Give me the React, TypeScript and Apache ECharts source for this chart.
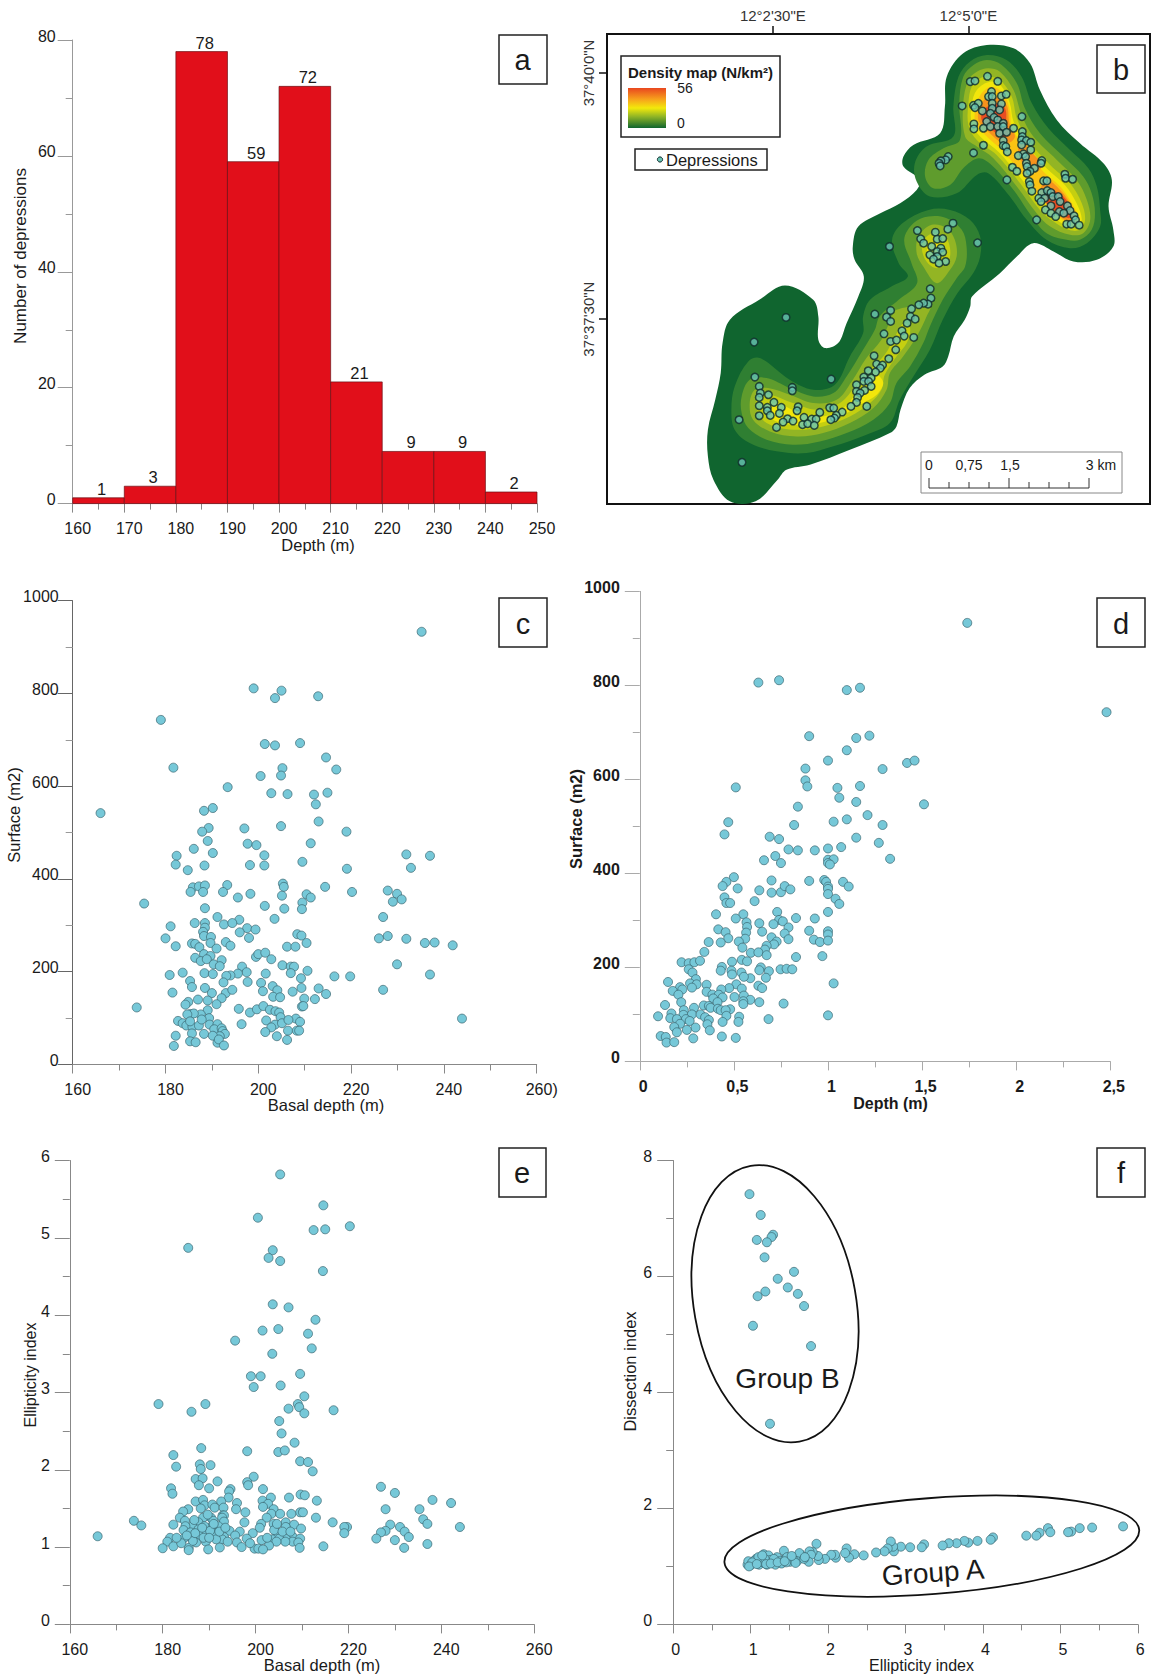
import React, { useEffect, useRef } from "react";
import * as echarts from "echarts";

const FONT = "'Liberation Sans', Arial, sans-serif";

const histogramBins = [[160,170,1],[170,180,3],[180,190,78],[190,200,59],[200,210,72],[210,220,21],[220,230,9],[230,240,9],[240,250,2]];

const surfaceVsBasal = [[235.2,933],[199,811],[205,806],[203.6,790],[212.9,794],[179,743],[201.4,691],[203.6,688],[209,693],[214.6,662],[216.8,636],[181.7,640],[205.2,639],[200.5,622],[204.9,623],[193.4,598],[202.8,585],[206.3,583],[212,582],[214.9,586],[212.4,561],[190.2,553],[188.3,547],[166,542],[213,524],[189.3,510],[197,509],[187.9,502],[204.9,514],[219,502],[189.1,482],[197.7,476],[199.6,473],[211.3,477],[186.1,465],[190.2,456],[182.4,450],[201.3,451],[231.9,453],[237,450],[182.2,431],[188.4,429],[198.2,430],[201.3,429],[209.5,437],[219.1,422],[232.9,424],[184.8,419],[185.9,382],[187.2,384],[188.5,386],[185.4,372],[188.1,372],[193.3,387],[192.4,372],[195.6,360],[198.3,368],[205.3,390],[205.5,383],[205.1,364],[210.4,367],[211.3,360],[214.4,383],[220.2,372],[227.9,375],[229.9,368],[230.9,356],[229,351],[175.4,347],[188.5,337],[201.4,342],[205.6,336],[209.5,349],[209.4,335],[226.9,318],[191.2,318],[195.9,312],[203.5,314],[181.1,298],[186.3,305],[188.5,305],[192.6,302],[194.4,305],[188.5,295],[188.1,286],[197.6,294],[199.4,291],[196,285],[188.3,277],[189.8,275],[198,273],[208.4,281],[209.3,278],[180,272],[226,272],[227.9,277],[231.9,271],[185.7,261],[186.4,260],[189.7,262],[193,264],[194,256],[182.2,255],[187.3,253],[191,250],[206.2,254],[208,254],[210.4,262],[235.9,262],[238,263],[241.9,257],[188.3,238],[189.7,234],[186.4,230],[187.6,223],[188.9,227],[192.1,225],[190.4,216],[191.7,212],[199.5,232],[200,238],[201.5,241],[202.8,227],[205.2,214],[207,211],[207.7,211],[229.9,216],[196.5,211],[197.5,199],[195.6,196],[194,192],[193.1,191],[188.4,197],[190.2,195],[183.7,198],[180.9,193],[201.6,196],[207,197],[210.6,202],[209.2,186],[216.4,190],[219.8,190],[237,194],[185.3,180],[185.7,167],[192.5,177],[197.7,178],[200.6,176],[203.1,169],[188.5,165],[181.5,155],[190,154],[193,154],[194.4,161],[201,158],[204.1,160],[207.4,157],[209.3,165],[213,164],[214.6,152],[226.9,161],[192.1,143],[189.1,138],[187,140],[203.2,146],[204.7,145],[209.9,142],[212.2,141],[184.9,135],[184.3,129],[191,130],[173.8,123],[195.8,120],[198.2,112],[199.7,119],[201.1,126],[202.5,118],[203.7,115],[204.5,112],[209.4,125],[209.7,126],[189.1,117],[187.6,108],[185.4,109],[186.1,110],[184.7,108],[189.4,100],[204.8,102],[208.1,99],[182.7,94],[183.7,89],[184.5,84],[185.8,81],[185.3,93],[187.2,84],[187.8,97],[189.5,86],[191.2,87],[196.4,87],[201.7,95],[203.6,86],[205.1,89],[206.5,96],[209,92],[243.9,99],[202.8,80],[185.7,67],[188.3,66],[190.5,76],[192.1,78],[192.3,72],[192.8,66],[191.7,61],[190.2,62],[182.2,62],[201.5,70],[206.4,73],[208.3,73],[208.8,73],[204,61],[206.2,53],[185.3,50],[186.5,48],[191.2,47],[191.5,54],[181.8,40],[192.6,41]];

const surfaceVsDepth = [[1.74,933],[.63,806],[.74,811],[1.10,790],[1.17,795],[2.48,743],[.90,692],[1.22,693],[1.15,688],[1.10,662],[1.00,640],[1.42,635],[1.46,640],[.88,623],[1.29,622],[.88,598],[.89,585],[.51,583],[1.05,582],[1.17,586],[1.06,561],[1.15,552],[1.51,547],[.84,542],[.47,509],[1.03,510],[1.10,515],[1.21,524],[.82,503],[1.29,503],[.45,483],[.69,478],[.74,473],[1.15,476],[1.27,465],[.79,451],[.84,449],[.93,449],[1.00,453],[1.07,456],[.72,437],[.66,428],[.75,422],[1.00,429],[1.03,430],[1.00,422],[1.01,419],[1.33,431],[.50,392],[.46,382],[.44,373],[.52,368],[.70,385],[.90,384],[.98,386],[.99,382],[1.08,382],[1.11,372],[1.00,372],[1.00,367],[.635,364],[.70,359],[.75,360],[.77,373],[.80,366],[1.00,356],[1.04,346],[.45,349],[.46,337],[.48,337],[.61,341],[1.06,335],[1.00,318],[.405,313],[.55,313],[.73,318],[.51,304],[.74,301],[.76,298],[.83,305],[.93,304],[.567,296],[.635,294],[.71,292],[.57,286],[.417,281],[.79,285],[.90,278],[.456,275],[.565,274],[.65,276],[.77,272],[1.00,277],[1.00,270],[.70,264],[.47,262],[.56,261],[.79,260],[.925,259],[.957,254],[1.00,257],[.366,254],[.43,253],[.526,255],[.727,255],[.713,249],[.674,246],[.545,242],[.665,238],[.343,233],[.59,231],[.63,232],[.674,226],[.83,222],[.97,224],[.542,216],[.57,213],[.222,211],[.26,209],[.29,211],[.32,214],[.49,212],[.436,201],[.643,200],[.26,196],[.43,193],[.487,193],[.635,194],[.686,192],[.748,196],[.78,197],[.81,196],[.28,189],[.54,189],[.49,185],[.67,178],[.298,175],[.587,177],[.553,180],[.15,169],[1.03,166],[.267,166],[.302,164],[.355,163],[.513,164],[.214,158],[.277,157],[.475,156],[.542,155],[.63,161],[.65,156],[.226,153],[.433,153],[.175,150],[.355,148],[.205,142],[.386,142],[.42,142],[.503,137],[.553,140],[.39,134],[.44,136],[.22,126],[.587,131],[.55,128],[.413,126],[.134,120],[.635,126],[.764,123],[.55,122],[.34,119],[.367,118],[.376,114],[.415,112],[.288,114],[.43,109],[.48,111],[.456,109],[.234,109],[.168,102],[.232,99],[.277,100],[.323,100],[.097,96],[.162,92],[.197,90],[.347,94],[.245,90],[.46,97],[.528,95],[.367,88],[.684,90],[1.00,98],[.524,84],[.44,84],[.214,80],[.265,86],[.359,79],[.183,73],[.296,72],[.25,67],[.197,62],[.372,66],[.111,54],[.138,52],[.436,53],[.284,49],[.51,50],[.142,40],[.183,41]];

const ellipticityVsBasal = [[205.3,5.82],[214.6,5.42],[200.5,5.26],[220.3,5.15],[212.5,5.10],[215,5.11],[185.5,4.87],[203.7,4.84],[202.8,4.74],[205.3,4.70],[214.5,4.57],[203.7,4.14],[207.1,4.10],[212.9,3.94],[201.5,3.80],[204.9,3.82],[211.3,3.76],[195.6,3.67],[212.1,3.57],[203.6,3.50],[209.6,3.24],[199,3.21],[201.1,3.21],[199.6,3.07],[205.4,3.09],[210.5,2.95],[179.1,2.85],[189.2,2.85],[209.1,2.85],[209.4,2.81],[207.1,2.79],[186.2,2.75],[216.8,2.77],[210.5,2.73],[205.1,2.63],[205.6,2.47],[208.4,2.35],[188.3,2.28],[198.2,2.24],[204.9,2.23],[206.3,2.25],[182.3,2.19],[209.6,2.11],[211.3,2.10],[188,2.07],[190.3,2.06],[182.9,2.04],[188.2,2.01],[212.3,1.98],[199.6,1.91],[187.1,1.88],[188.6,1.89],[191.8,1.85],[198.2,1.84],[198.4,1.80],[187.8,1.80],[190,1.76],[181.8,1.76],[194.6,1.75],[194.3,1.72],[201.6,1.75],[182.1,1.69],[227,1.78],[230,1.70],[209.7,1.68],[210.6,1.67],[194.2,1.64],[203.3,1.64],[207.2,1.64],[187.1,1.59],[188.7,1.61],[192.6,1.59],[201.5,1.60],[213.2,1.60],[238.1,1.61],[242.1,1.57],[196,1.57],[202.7,1.56],[189,1.54],[190.7,1.55],[191.2,1.51],[193.1,1.51],[201.6,1.52],[188.2,1.50],[185.5,1.49],[235.3,1.49],[195.8,1.49],[203.9,1.49],[184.4,1.46],[228,1.49],[197.8,1.45],[209.6,1.45],[210.2,1.45],[207.7,1.43],[203.4,1.43],[205.3,1.43],[192.9,1.41],[183.7,1.38],[190.4,1.38],[193.2,1.41],[188.7,1.38],[192.8,1.38],[202.4,1.38],[213,1.38],[184.8,1.34],[190.9,1.34],[236.1,1.36],[173.8,1.34],[187.7,1.32],[197.6,1.32],[193.2,1.33],[206.5,1.32],[216.6,1.32],[237,1.30],[175.4,1.28],[182.3,1.29],[186.4,1.27],[184.9,1.27],[192,1.27],[203.9,1.30],[201.2,1.30],[208.3,1.29],[229,1.29],[231.1,1.26],[219.7,1.26],[219.1,1.26],[244,1.26],[190.5,1.26],[187.7,1.23],[206.5,1.26],[209.8,1.24],[200.9,1.25],[194.4,1.21],[196.6,1.20],[228,1.21],[232.1,1.20],[227,1.19],[184.5,1.22],[186,1.19],[191.1,1.18],[204.7,1.18],[199.4,1.18],[219.1,1.18],[166,1.14],[233,1.13],[193.2,1.13],[195.6,1.15],[186.3,1.12],[181.6,1.12],[184.5,1.11],[207.9,1.14],[198.1,1.11],[201.3,1.09],[206.5,1.11],[209.6,1.11],[192.8,1.10],[203.6,1.10],[205.1,1.11],[226,1.11],[230,1.09],[181,1.07],[189.3,1.07],[208,1.07],[209.2,1.06],[206.4,1.07],[204.5,1.07],[196,1.06],[187.2,1.06],[237,1.04],[202.9,1.02],[214.6,1.01],[182.3,1.01],[197,1.00],[192.3,.995],[185.6,.99],[209.5,.99],[180,.985],[232,.99],[199.8,.98],[200.6,.98],[201.6,.97],[189.8,.97],[185.6,.96],[188,1.16],[189,1.27],[189.5,1.19],[191.5,1.10],[186.5,1.08],[188.8,1.12],[190.2,1.21],[184,1.05],[202.5,1.12],[204,1.22],[191,1.30],[187,1.18],[188.5,1.25],[185.2,1.15],[190,1.12],[192.2,1.2],[193.5,1.25],[186.8,1.35],[189.7,1.42],[204.6,1.3],[205.8,1.2],[207.5,1.2],[183,1.12],[194,1.07],[198.8,1.05]];

const dissectionGroupB = [[.985,7.42],[1.13,7.06],[1.29,6.72],[1.27,6.68],[1.08,6.63],[1.21,6.59],[1.18,6.33],[1.56,6.08],[1.35,5.96],[1.48,5.81],[1.19,5.74],[1.09,5.66],[1.61,5.70],[1.69,5.49],[1.03,5.15],[1.78,4.80],[1.25,3.46]];

const dissectionGroupA = [[5.81,1.69],[5.41,1.67],[5.25,1.66],[5.14,1.60],[5.10,1.59],[4.84,1.66],[4.87,1.59],[4.73,1.58],[4.69,1.53],[4.56,1.53],[4.13,1.50],[4.10,1.46],[3.93,1.44],[3.81,1.41],[3.76,1.44],[3.66,1.40],[3.56,1.40],[3.48,1.36],[3.24,1.38],[3.21,1.33],[3.06,1.33],[2.94,1.34],[2.85,1.26],[2.84,1.34],[2.81,1.43],[2.77,1.31],[2.73,1.26],[2.62,1.24],[2.46,1.19],[2.34,1.21],[2.27,1.15],[2.24,1.31],[2.22,1.23],[2.10,1.15],[2.09,1.20],[2.04,1.20],[1.96,1.13],[1.88,1.11],[1.87,1.18],[1.85,1.39],[1.80,1.25],[1.76,1.26],[1.78,1.20],[1.75,1.08],[1.65,1.20],[1.63,1.23],[1.60,1.09],[1.52,1.13],[1.51,1.08],[1.43,1.27],[1.42,1.11],[1.34,1.16],[1.28,1.06],[1.17,1.21],[1.23,1.19],[1.14,1.15],[1.21,1.03],[1.07,1.13],[1.11,1.03],[.99,1.04],[.96,1.03],[.97,1.09],[1.04,1.06],[1.16,1.07],[1.25,1.11],[1.37,1.09],[1.30,1.13],[1.47,1.16],[1.56,1.10],[1.69,1.13],[1.0,1.02],[1.05,1.1],[1.12,1.08],[1.18,1.13],[1.2,1.04],[1.32,1.03],[1.4,1.05],[1.46,1.07],[1.58,1.06],[1.1,1.16],[1.15,1.19],[1.02,1.07],[.98,1.0],[1.08,1.04],[1.26,1.05],[1.35,1.07],[1.44,1.09],[1.53,1.18],[1.7,1.16]];

const groupEllipses = [{ name: "Group B", center: [1.315, 5.53] }, { name: "Group A", center: [3.34, 1.35] }];

const mapDepressions = [[1075,245],[1088,243],[1122,229],[1150,244],[1133,275],[1125,290],[1135,290],[1160,288],[1173,283],[1053,318],[1084,316],[1097,310],[1088,323],[1135,310],[1160,312],[1135,325],[1108,333],[1155,330],[1130,340],[1140,352],[1120,365],[1150,360],[1165,370],[1085,372],[1085,387],[1111,385],[1130,380],[1150,380],[1165,380],[1193,385],[1155,400],[1174,397],[1216,350],[1217,395],[1217,410],[1215,420],[1228,422],[1240,427],[1215,435],[1165,422],[1165,437],[1172,440],[1176,456],[1111,436],[1084,459],[1240,450],[1220,462],[1206,467],[1226,470],[1015,470],[1008,480],[995,483],[990,490],[993,498],[1228,490],[1270,482],[1268,490],[1230,500],[1190,502],[1202,514],[1250,505],[1238,514],[1230,520],[1175,540],[1333,523],[1335,535],[1354,538],[1275,543],[1284,543],[1236,545],[1238,555],[1243,574],[1270,578],[1285,572],[1295,578],[1262,595],[1278,595],[1300,590],[1315,590],[1268,605],[1295,618],[1320,605],[1340,618],[1280,630],[1295,640],[1318,635],[1347,632],[1308,650],[1330,640],[1358,648],[1256,660],[1338,673],[1350,673],[1362,660],[1372,676],[1028,670],[1014,688],[980,697],[931,692],[855,740],[1095,729],[940,717],[948,730],[985,718],[1000,716],[970,740],[995,745],[985,755],[1000,757],[965,765],[985,770],[975,778],[1008,785],[990,790],[966,867],[968,895],[960,913],[948,910],[935,915],[915,927],[858,932],[815,943],[847,952],[858,965],[912,950],[925,958],[903,970],[573,953],[889,993],[895,1009],[921,1013],[840,1002],[858,1025],[874,1021],[486,1027],[872,1050],[813,1068],[853,1077],[820,1093],[836,1096],[830,1105],[817,1117],[797,1113],[488,1132],[696,1138],[785,1132],[805,1135],[785,1145],[798,1145],[765,1155],[500,1160],[590,1163],[590,1173],[805,1160],[787,1172],[765,1175],[775,1180],[503,1180],[525,1185],[500,1193],[768,1193],[540,1208],[765,1208],[500,1218],[522,1223],[560,1223],[606,1221],[692,1224],[703,1225],[750,1220],[793,1220],[522,1233],[603,1233],[555,1241],[530,1247],[500,1248],[665,1238],[726,1237],[710,1247],[445,1260],[577,1257],[565,1267],[592,1264],[622,1253],[643,1258],[655,1258],[705,1255],[695,1260],[618,1275],[632,1272],[650,1277],[547,1283],[453,1388]];

const density0 = [[[1120,135],[1193,145],[1238,190],[1265,270],[1311,360],[1374,430],[1438,490],[1461,540],[1452,620],[1465,690],[1465,740],[1420,780],[1356,785],[1302,755],[1247,730],[1202,770],[1156,820],[1080,890],[1075,920],[1060,960],[1030,1010],[1015,1070],[1000,1100],[950,1125],[910,1165],[885,1230],[874,1280],[856,1300],[747,1350],[638,1395],[574,1410],[550,1440],[490,1505],[420,1505],[375,1440],[360,1370],[360,1290],[380,1200],[395,1120],[400,1030],[420,960],[500,900],[570,857],[647,900],[661,950],[661,1020],[679,1045],[715,1030],[738,970],[770,890],[785,830],[760,780],[755,740],[770,680],[830,640],[884,610],[929,570],[938,540],[893,500],[893,470],[920,435],[993,400],[1006,320],[1011,230],[1056,160]]];
const density1 = [[[1120,165],[1174,180],[1215,230],[1243,310],[1288,385],[1347,450],[1397,505],[1420,560],[1429,630],[1429,680],[1393,730],[1347,745],[1283,720],[1229,660],[1183,590],[1124,520],[1093,525],[1038,580],[965,590],[929,545],[924,490],[956,440],[1029,410],[1029,320],[1043,230],[1074,185]],[[961,630],[1020,630],[1074,660],[1102,710],[1102,770],[1083,820],[1040,880],[1000,960],[965,1050],[920,1130],[883,1200],[856,1270],[792,1305],[702,1340],[629,1360],[547,1355],[474,1330],[433,1290],[424,1230],[433,1160],[470,1085],[502,1075],[583,1140],[647,1170],[706,1155],[747,1070],[783,1000],[783,950],[802,900],[860,860],[905,830],[880,790],[862,720],[890,670]]];
const density2 = [[[1120,180],[1161,195],[1202,250],[1224,325],[1265,400],[1329,470],[1383,530],[1406,580],[1415,640],[1406,690],[1374,720],[1338,720],[1283,700],[1243,650],[1193,570],[1133,495],[1097,475],[1056,505],[1020,555],[974,565],[952,530],[961,480],[1002,445],[1047,420],[1045,310],[1056,230],[1084,195]],[[961,650],[1011,655],[1052,690],[1065,740],[1061,800],[1038,835],[1000,900],[965,980],[947,1030],[911,1100],[874,1150],[856,1210],[811,1260],[738,1300],[665,1325],[592,1335],[520,1320],[470,1285],[452,1240],[452,1190],[474,1140],[520,1135],[583,1165],[647,1190],[702,1180],[738,1130],[783,1050],[815,990],[828,950],[880,900],[930,850],[915,790],[895,720],[920,670]]];
const density3 = [[[1124,205],[1156,215],[1193,270],[1215,345],[1247,410],[1311,480],[1365,540],[1393,600],[1402,660],[1383,700],[1347,705],[1293,680],[1256,640],[1202,560],[1138,475],[1093,440],[1061,410],[1056,310],[1070,240],[1093,215]],[[970,675],[1011,685],[1033,720],[1038,770],[1020,810],[984,850],[947,800],[929,760],[934,710]],[[874,930],[856,965],[833,1020],[792,1075],[752,1145],[711,1200],[647,1210],[583,1185],[524,1165],[488,1170],[474,1210],[483,1260],[529,1295],[602,1310],[674,1300],[747,1270],[811,1225],[847,1170],[856,1120],[892,1070],[929,1010],[956,950],[965,920]]];
const density4 = [[[1124,230],[1156,240],[1188,290],[1202,355],[1233,420],[1293,495],[1347,550],[1379,610],[1388,660],[1374,690],[1343,690],[1302,665],[1265,630],[1211,550],[1147,465],[1093,420],[1070,375],[1070,310],[1079,260],[1102,235]],[[974,700],[1006,710],[1020,745],[1015,785],[984,805],[956,785],[943,745],[952,715]],[[893,970],[870,1010],[842,1065],[802,1110],[765,1155],[720,1210],[656,1230],[592,1210],[529,1185],[497,1190],[492,1225],[520,1270],[592,1290],[674,1280],[747,1250],[802,1210],[833,1170],[842,1125],[874,1070],[902,1030],[911,985]]];
const density5 = [[[1129,245],[1161,260],[1183,310],[1193,365],[1224,425],[1283,505],[1333,555],[1365,610],[1379,660],[1365,680],[1338,678],[1306,655],[1270,615],[1220,545],[1156,460],[1102,410],[1079,370],[1079,315],[1093,270]],[[985,730],[1000,750],[990,780],[965,775],[958,745]],[[820,1125],[838,1150],[820,1185],[783,1210],[729,1245],[665,1270],[592,1275],[538,1260],[511,1220],[547,1210],[611,1240],[674,1250],[729,1225],[765,1180],[797,1140]]];
const density6 = [[[1133,260],[1165,280],[1183,330],[1188,380],[1220,440],[1274,515],[1320,560],[1352,610],[1370,655],[1356,670],[1333,665],[1311,645],[1274,605],[1229,540],[1165,455],[1111,400],[1088,365],[1091,320],[1106,280]]];
const density7 = [[[1143,290],[1174,315],[1182,370],[1197,410],[1179,430],[1156,425],[1120,390],[1097,360],[1102,320],[1118,295]],[[1215,415],[1238,450],[1270,495],[1256,515],[1229,505],[1206,460]],[[1283,540],[1320,570],[1347,610],[1361,650],[1347,665],[1320,650],[1283,610],[1265,580]]];
const density8 = [[[1147,310],[1170,325],[1174,370],[1179,405],[1161,410],[1129,385],[1106,360],[1111,330]],[[1288,570],[1329,590],[1352,640],[1343,655],[1311,635],[1283,610]]];
const densityLevels = [density0, density1, density2, density3, density4, density5, density6, density7, density8];
const densityColors = ["#10652f", "#2f7f32", "#5f9c2d", "#93b524", "#c5cf10", "#f2e60b", "#fbc313", "#f6921d", "#e94d22"];

const text = (s: string, x: number, y: number, size: number, o: any = {}) => ({
  type: "text", x, y, rotation: o.rotation || 0, z: 100,
  style: { text: s, fill: o.fill || "#1a1a1a", font: `${o.bold ? "bold " : ""}${size}px ${FONT}`, textAlign: o.align || "center", textVerticalAlign: "middle" },
});
const box = (x: number, y: number, w: number, h: number, stroke = "#222", lw = 1.5) => ({
  type: "rect", z: 99, shape: { x, y, width: w, height: h }, style: { fill: "#fff", stroke, lineWidth: lw },
});
const line = (x1: number, y1: number, x2: number, y2: number) => ({
  type: "line", z: 101, shape: { x1, y1, x2, y2 }, style: { stroke: "#333", lineWidth: 1 },
});

function valueAxis(grid: number, type: "x" | "y", min: number, max: number, interval: number, o: any) {
  const horizontal = type === "x";
  return {
    type: "value", gridIndex: grid, min, max, interval, scale: false,
    axisLine: { show: true, onZero: false, lineStyle: { color: o.color, width: 1 } },
    axisTick: { show: true, length: horizontal ? 9 : o.ylen ?? 15, lineStyle: { color: o.color } },
    minorTick: { show: true, splitNumber: 2, length: horizontal ? 6 : 7, lineStyle: { color: o.minor || o.color } },
    splitLine: { show: false }, minorSplitLine: { show: false },
    axisLabel: {
      show: true, hideOverlap: false, showMinLabel: true, showMaxLabel: true, color: "#1a1a1a", fontFamily: FONT, fontSize: 16, fontWeight: o.bold ? "bold" : "normal",
      margin: horizontal ? 17 : o.ymargin ?? 17,
      ...(horizontal ? { padding: [0, 0, 0, o.xshift ?? 10] } : { verticalAlign: "bottom", lineHeight: 8 }),
      formatter: o.formatter || ((v: number) => String(v)),
    },
  };
}

const scatter = (x: number, data: number[][]) => ({
  type: "scatter", xAxisIndex: x, yAxisIndex: x, data, symbol: "circle", symbolSize: 9, z: 5,
  itemStyle: { color: "#76c8d8", borderColor: "#3a6670", borderWidth: 0.7, opacity: 1 },
});

function buildOption() {
  const grids = [
    { left: 72.7, top: 40, width: 464.3, height: 463.6 },
    { left: 607, top: 34, width: 543, height: 470, show: true, borderColor: "#111", borderWidth: 2 },
    { left: 72.7, top: 600.7, width: 464, height: 463.8 },
    { left: 639.8, top: 591.4, width: 470.5, height: 470 },
    { left: 69.8, top: 1160.5, width: 464.4, height: 463.9 },
    { left: 673.2, top: 1160.5, width: 464.6, height: 463.9 },
  ];
  const lonLabels: Record<number, string> = { 537: "12°2'30\"E", 1070: "12°5'0\"E" };
  const latLabels: Record<number, string> = { 219: "37°40'0\"N", 958: "37°37'30\"N" };
  const xAxis: any[] = [
    valueAxis(0, "x", 160, 250, 10, { color: "#888" }),
    {
      type: "value", gridIndex: 1, position: "top", min: 85, max: 1565,
      axisLine: { show: false }, splitLine: { show: false },
      axisTick: { show: true, length: 8, customValues: [537, 1070], lineStyle: { color: "#111", width: 1.5 } },
      axisLabel: { show: true, customValues: [537, 1070], margin: 11, color: "#333", fontFamily: FONT, fontSize: 15, formatter: (v: number) => lonLabels[v] || "" },
    },
    valueAxis(2, "x", 160, 260, 20, { color: "#888", formatter: (v: number) => (v === 260 ? "260)" : String(v)) }),
    valueAxis(3, "x", 0, 2.5, 0.5, { color: "#aaa", bold: true, xshift: 7, formatter: (v: number) => String(v).replace(".", ",") }),
    valueAxis(4, "x", 160, 260, 20, { color: "#888" }),
    valueAxis(5, "x", 0, 6, 1, { color: "#888", xshift: 5 }),
  ];
  const yAxis: any[] = [
    valueAxis(0, "y", 0, 80, 20, { color: "#999", ymargin: 17 }),
    {
      type: "value", gridIndex: 1, inverse: true, min: 102, max: 1513,
      axisLine: { show: false }, splitLine: { show: false },
      axisTick: { show: true, length: 8, customValues: [219, 958], lineStyle: { color: "#111", width: 1.5 } },
      axisLabel: { show: true, customValues: [219, 958], rotate: 90, margin: 11, color: "#333", fontFamily: FONT, fontSize: 15, formatter: (v: number) => latLabels[v] || "" },
    },
    valueAxis(2, "y", 0, 1000, 200, { color: "#666", minor: "#999", ymargin: 14 }),
    valueAxis(3, "y", 0, 1000, 200, { color: "#aaa", bold: true, ymargin: 20 }),
    valueAxis(4, "y", 0, 6, 1, { color: "#888", ymargin: 20 }),
    valueAxis(5, "y", 0, 8, 2, { color: "#888", ymargin: 21, ylen: 16 }),
  ];

  const series: any[] = [];
  series.push({
    type: "custom", xAxisIndex: 0, yAxisIndex: 0, data: histogramBins, z: 3, encode: { x: [0, 1], y: 2 },
    renderItem: (_: any, api: any) => {
      const a = api.coord([api.value(0), api.value(2)]);
      const b = api.coord([api.value(1), 0]);
      return {
        type: "group",
        children: [
          { type: "rect", shape: { x: a[0], y: a[1], width: b[0] - a[0], height: b[1] - a[1] }, style: { fill: "#e10f1a", stroke: "#6b1015", lineWidth: 0.7 } },
          { type: "text", x: (a[0] + b[0]) / 2 + 3, y: a[1] - 9, style: { text: String(api.value(2)), font: `16.5px ${FONT}`, fill: "#1a1a1a", textAlign: "center", textVerticalAlign: "middle" } },
        ],
      };
    },
  });

  densityLevels.forEach((polys, i) => {
    polys.forEach((poly) => {
      series.push({
        type: "custom", xAxisIndex: 1, yAxisIndex: 1, data: [0], z: 2, silent: true, clip: true,
        renderItem: (_: any, api: any) => ({
          type: "polygon",
          shape: { points: poly.map((p) => api.coord(p)), smooth: 0.35, smoothConstraint: false },
          style: { fill: densityColors[i], stroke: "none" },
        }),
      });
    });
  });
  series.push({
    type: "scatter", xAxisIndex: 1, yAxisIndex: 1, data: mapDepressions, symbol: "circle", symbolSize: 7.5, z: 5,
    itemStyle: { color: "#69c4b4", borderColor: "#0f2b2b", borderWidth: 1.5 },
  });
  series.push(scatter(2, surfaceVsBasal));
  series.push(scatter(3, surfaceVsDepth));
  series.push(scatter(4, ellipticityVsBasal));
  series.push(scatter(5, dissectionGroupB));
  series.push(scatter(5, dissectionGroupA));
  series.push({
    type: "custom", xAxisIndex: 5, yAxisIndex: 5, z: 6, silent: true,
    data: groupEllipses.map((g) => g.center),
    renderItem: (p: any, api: any) => {
      const c = api.coord([api.value(0), api.value(1)]);
      const isB = p.dataIndex === 0;
      return {
        type: "ellipse", x: c[0], y: c[1], rotation: ((isB ? 10 : 4.5) * Math.PI) / 180,
        shape: { cx: 0, cy: 0, rx: isB ? 81 : 208, ry: isB ? 140 : 48 },
        style: { fill: "none", stroke: "#111", lineWidth: 1.8 },
      };
    },
  });

  const scaleTicks = [929, 949, 969, 989, 1009, 1029, 1049, 1069, 1089];
  const graphic: any[] = [
    box(499, 35, 48, 49), text("a", 522.5, 60, 29),
    box(1097, 45, 48, 48), text("b", 1121, 70, 29),
    box(499, 598, 48, 49), text("c", 523, 624, 29),
    box(1097, 598, 48, 49), text("d", 1121, 624, 29),
    box(499, 1148, 47, 49), text("e", 522, 1173, 29),
    box(1097, 1148, 48, 49), text("f", 1121, 1173, 29),

    text("Number of depressions", 20, 256, 17, { rotation: Math.PI / 2 }),
    text("Depth (m)", 318, 544.5, 16.5),
    text("Surface (m2)", 14, 815, 16.5, { rotation: Math.PI / 2 }),
    text("Basal depth (m)", 326, 1105, 16.5),
    text("Surface (m2)", 576, 819, 16.5, { rotation: Math.PI / 2, bold: true }),
    text("Depth (m)", 890.5, 1103, 16, { bold: true }),
    text("Ellipticity index", 30, 1375, 16, { rotation: Math.PI / 2 }),
    text("Basal depth (m)", 322, 1665, 16.5),
    text("Dissection index", 630, 1371.5, 16.5, { rotation: Math.PI / 2 }),
    text("Ellipticity index", 921.5, 1665, 16),
    text("Group B", 787.5, 1378, 28),
    text("Group A", 933, 1572.5, 28, { rotation: 0.07 }),

    { type: "rect", z: 98, shape: { x: 621, y: 56, width: 159, height: 81 }, style: { fill: "#fff", stroke: "#222", lineWidth: 1.5 } },
    text("Density map (N/km²)", 628, 72, 15, { bold: true, align: "left" }),
    {
      type: "rect", z: 100, shape: { x: 628, y: 88, width: 38, height: 40 },
      style: {
        fill: new echarts.graphic.LinearGradient(0, 0, 0, 1, [
          { offset: 0, color: "#e9471f" }, { offset: 0.28, color: "#f7a11c" }, { offset: 0.5, color: "#f3e90b" },
          { offset: 0.72, color: "#8db326" }, { offset: 1, color: "#10652f" },
        ]),
      },
    },
    text("56", 685, 88, 14, { rotation: 0 }),
    text("0", 681, 123, 14),
    { type: "rect", z: 98, shape: { x: 635, y: 149, width: 132, height: 21 }, style: { fill: "#fff", stroke: "#222", lineWidth: 1.5 } },
    { type: "circle", z: 100, shape: { cx: 660, cy: 159.5, r: 2.6 }, style: { fill: "#69c4b4", stroke: "#0f2b2b", lineWidth: 1 } },
    text("Depressions", 666, 160, 16.5, { align: "left" }),

    { type: "rect", z: 98, shape: { x: 921, y: 452, width: 201, height: 41 }, style: { fill: "#fff", stroke: "#888", lineWidth: 1 } },
    text("0", 929, 465, 14),
    text("0,75", 969, 465, 14),
    text("1,5", 1010, 465, 14),
    text("3 km", 1101, 465, 14),
    line(929, 488, 1089, 488),
    ...scaleTicks.map((x, i) => line(x, i % 4 === 0 ? 478 : 482, x, 488)),
  ];

  return { animation: false, backgroundColor: "#fff", grid: grids, xAxis, yAxis, series, graphic, tooltip: { show: false } };
}

export default function App() {
  const ref = useRef<HTMLDivElement | null>(null);
  useEffect(() => {
    document.body.style.margin = "0";
    const chart = echarts.init(ref.current as HTMLDivElement, undefined, { renderer: "svg" });
    chart.setOption(buildOption() as any);
    return () => chart.dispose();
  }, []);
  return <div ref={ref} style={{ width: 1151, height: 1676, display: "block" }} />;
}
